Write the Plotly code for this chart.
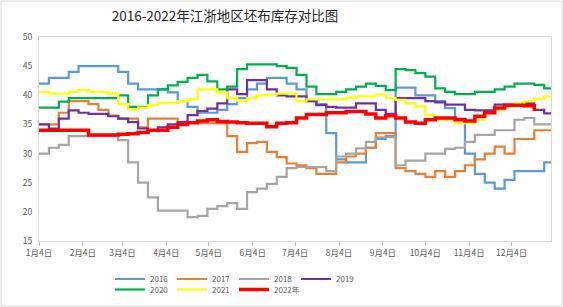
import plotly.graph_objects as go
import pandas as pd

# weekly sample dates (axis shown as month/day)
dates = pd.date_range("2021-01-04", periods=53, freq="7D")

tick_dates = [f"2021-{m:02d}-04" for m in range(1, 13)]
tick_text = [f"{m}月4日" for m in range(1, 13)]

s2016 = [42, 43, 43, 44, 45, 45, 45, 45, 44, 42, 41, 41, 41, 40.5, 39, 38, 37, 37, 37.5, 38.5,
         39.5, 41, 42, 43, 43, 42, 41, 39, 38.5, 33.5, 29, 28.5, 28.5, 31, 32.5, 33, 41.3, 41.3,
         40, 40, 39, 37.8, 36, 30, 26.5, 25, 24, 25.5, 27, 27, 27, 28.5, 29]
s2017 = [35, 35, 37, 39, 39, 38.5, 37.5, 36.5, 36, 36, 34.5, 36, 36, 36, 35.3, 35.3, 35.2, 35.2,
         35.2, 33, 30.3, 31.8, 32, 30.3, 29.4, 28.3, 28, 27.5, 26.5, 26.5, 28.5, 29.5, 30, 31,
         33.5, 33.5, 27.5, 27, 26.5, 26, 27, 26, 27, 28, 29, 30, 31.2, 30, 32.5, 32.5, 34, 34, 34]
s2018 = [30, 31, 31.5, 33, 33, 33, 33, 33, 32.3, 28.5, 25, 22.5, 20.2, 20.2, 20.2, 19.1, 19.3,
         20.5, 21, 21.5, 20.5, 23.4, 24, 24.8, 26, 27.5, 27.7, 27.7, 27.7, 27, 29.5, 30, 30.9,
         32, 32.8, 32.8, 28, 28.8, 28.8, 30, 30, 30.8, 31, 32, 33.2, 33.2, 34, 34, 35.8, 36.1,
         35, 35, 36]
s2019 = [35, 34.3, 36, 37.4, 37, 36.8, 36.8, 36.4, 36, 35.4, 34.3, 34, 34.5, 35, 35.4, 36.6,
         37.3, 37.7, 38.6, 41, 40.2, 42.6, 42.6, 41, 40, 39.8, 39.8, 39, 38.3, 38, 37.9, 37.9,
         38.6, 38.6, 37.5, 36.8, 39.5, 39.5, 39.5, 39, 38.8, 38.4, 38.4, 37.5, 37.4, 37.4, 38.4,
         38.4, 38.4, 38.6, 37.5, 36.9, 36.9]
s2020 = [37.9, 37.9, 38.9, 39.5, 39.5, 39.5, 39.5, 39.5, 40, 38, 38, 40, 41, 41.7, 42.3, 43,
         43.5, 42.4, 41, 41.5, 44.5, 45.3, 45.3, 45.3, 45, 44.7, 43.5, 41.5, 40.2, 40.2, 40.6,
         41, 41.5, 42, 41.6, 40.9, 44.5, 44.3, 43.8, 43.2, 41.2, 40.6, 40.2, 40.2, 40.6, 40.6,
         41, 41.5, 42, 42, 41.8, 41.2, 41]
s2021 = [40.6, 40.3, 40.3, 40.6, 40.9, 40.6, 40.6, 40.3, 38.5, 37.6, 37.9, 38.3, 38.7, 38.7,
         39, 39.3, 41, 41, 40.5, 39.5, 39, 39.5, 40, 40.1, 40.3, 40.3, 39, 39.3, 39.3, 39.3,
         39.3, 39.6, 39.8, 39.8, 40.1, 39.5, 39.2, 38.6, 38.1, 36.6, 35.8, 35.8, 35.2, 35.2,
         35.8, 36.9, 37.5, 38.1, 38.6, 39, 39.4, 39.8, 40]
s2022 = [34, 34, 34, 34, 34, 33.2, 33.2, 33.2, 33.3, 33.4, 33.6, 34, 34, 34.5, 35, 35.3, 35.6,
         35.8, 35.5, 35.4, 35.3, 35.2, 35.2, 34.6, 35.2, 35.3, 36.1, 36.7, 36.7, 37, 37, 37.2,
         37.2, 36.8, 36.1, 36.5, 36.1, 35.4, 35.2, 35.8, 36.1, 36.1, 35.8, 35.6, 36.4, 37, 37.8,
         38.3, 38.3, 38.2, 37.3, None, None]

series = [
    ("2016", s2016, "#5B9BD5", 2.2, "legend"),
    ("2017", s2017, "#ED7D31", 2.2, "legend"),
    ("2018", s2018, "#A5A5A5", 2.2, "legend"),
    ("2019", s2019, "#7030A0", 2.2, "legend"),
    ("2020", s2020, "#00B050", 2.2, "legend2"),
    ("2021", s2021, "#FFFF00", 2.2, "legend2"),
    ("2022年", s2022, "#FF0000", 3.5, "legend2"),
]

fig = go.Figure()
for name, vals, color, w, lg in series:
    fig.add_trace(go.Scatter(
        x=dates, y=vals, name=name, mode="lines",
        line=dict(color=color, width=w, shape="hv"),
        legend=lg, connectgaps=False,
    ))
# blank spacer entry so the second legend row is wide enough for "2022年"
fig.add_trace(go.Scatter(x=[None], y=[None], name=" ", mode="lines",
                         line=dict(color="rgba(0,0,0,0)", width=1),
                         legend="legend2", hoverinfo="skip"))

W, H = 563, 307
ml, mr, mt, mb = 39, 12, 37, 66
pw, ph = W - ml - mr, H - mt - mb

def px_x(x):
    return (x - ml) / pw

def px_y(y):
    return (H - mb - y) / ph

legend_common = dict(
    orientation="h", xanchor="left", yanchor="middle",
    xref="container", yref="container",
    bgcolor="rgba(0,0,0,0)", borderwidth=0,
    font=dict(size=8, color="#595959", family="Noto Sans CJK SC"),
    entrywidth=17, entrywidthmode="pixels",
)

fig.update_layout(
    width=W, height=H,
    margin=dict(l=ml, r=mr, t=mt, b=mb, pad=0, autoexpand=False),
    paper_bgcolor="white", plot_bgcolor="white",
    font=dict(family="Noto Sans CJK SC", size=8.5, color="#595959"),
    title=dict(text="2016-2022年江浙地区坯布库存对比图",
               x=225 / W, xref="container", xanchor="center",
               y=1 - 16 / H, yref="container", yanchor="middle",
               font=dict(size=13.5, color="#262626", family="Noto Sans CJK SC")),
    showlegend=True,
    legend=dict(x=110 / W, y=1 - 279 / H, **legend_common),
    legend2=dict(x=110 / W, y=1 - 289.5 / H, **legend_common),
    xaxis=dict(type="date", range=["2021-01-04", "2021-12-31 19:00"],
               tickvals=tick_dates, ticktext=tick_text,
               ticks="outside", ticklen=4, tickcolor="#BFBFBF",
               showline=True, linecolor="#D9D9D9", mirror=True,
               showgrid=False, zeroline=False,
               tickfont=dict(size=8.5, color="#595959")),
    yaxis=dict(range=[15, 50], tick0=15, dtick=5,
               ticks="outside", ticklen=4, tickcolor="rgba(0,0,0,0)",
               showline=True, linecolor="#D9D9D9", mirror=True,
               showgrid=False, zeroline=False,
               tickfont=dict(size=8.5, color="#595959")),
    shapes=[dict(type="rect", xref="paper", yref="paper",
                 x0=px_x(1), x1=px_x(562), y0=px_y(306), y1=px_y(1),
                 line=dict(color="#D9D9D9", width=1), fillcolor="rgba(0,0,0,0)",
                 layer="below")],
)

fig.write_html("out.html")
